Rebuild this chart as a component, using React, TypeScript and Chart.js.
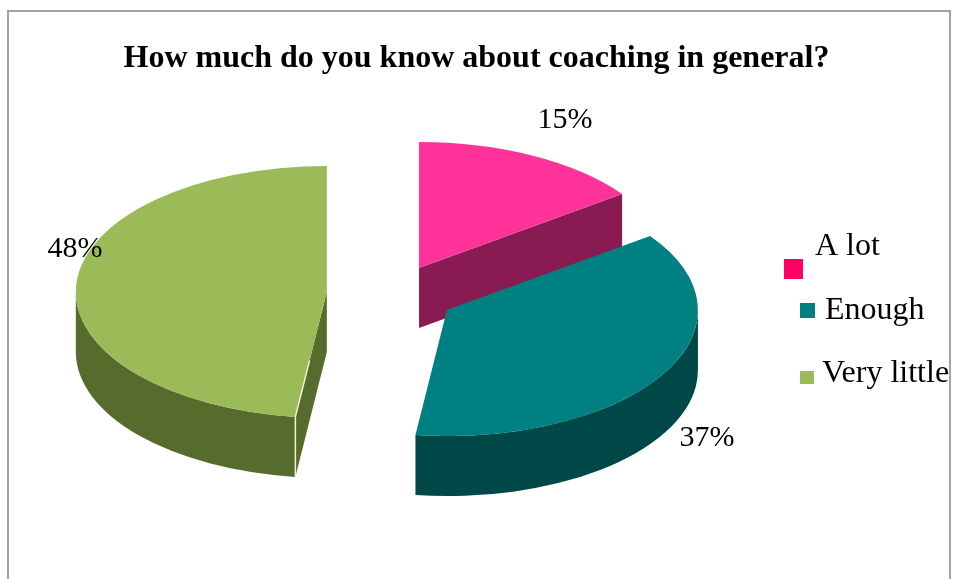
import React, { useEffect, useRef } from "react";
import { Chart, registerables } from "chart.js";

Chart.register(...registerables);

const categories = ["A lot", "Enough", "Very little"];
const shares = [15, 37, 48];
const topColors = ["#FF3399", "#008080", "#9BBB59"];
const wallColors = ["#8A1A52", "#004848", "#566B2C"];
const legendColors = ["#FF0066", "#008080", "#9BBB59"];
const chartTitle = "How much do you know about coaching in general?";

const SERIF = '"Liberation Serif", "Times New Roman", serif';
const CENTER_X = 392.7;
const CENTER_Y = 294;
const TILT = 0.502; // vertical squash of the pie plane
const DEPTH = 60; // wall height in screen pixels
const RADIUS = 251;
const EXPLODE = [58, 63, 66]; // how far each slice is pulled out, in plane units

const LABEL_SPOTS = [
  { x: 565, y: 120 },
  { x: 707, y: 438 },
  { x: 75, y: 249 },
];
const LEGEND_ROWS = [
  { x: 784, y: 259, w: 19, h: 20, tx: 815, ty: 247 },
  { x: 800, y: 303, w: 15, h: 15, tx: 825, ty: 311 },
  { x: 800, y: 371, w: 14, h: 13, tx: 822, ty: 374 },
];

// Side walls sit under the flat arcs, so they are painted first.
function drawWalls(chart: any) {
  const ctx: CanvasRenderingContext2D = chart.ctx;
  const arcs = chart.getDatasetMeta(0).data;
  const drop = DEPTH / TILT;
  ctx.save();
  ctx.scale(1, TILT);
  arcs.forEach((arc: any, i: number) => {
    const { startAngle, endAngle, x: cx, y: cy } = arc;
    ctx.fillStyle = wallColors[i];

    const cutFace = (a: number) => {
      ctx.beginPath();
      ctx.moveTo(cx, cy);
      ctx.lineTo(cx + Math.cos(a) * RADIUS, cy + Math.sin(a) * RADIUS);
      ctx.lineTo(cx + Math.cos(a) * RADIUS, cy + Math.sin(a) * RADIUS + drop);
      ctx.lineTo(cx, cy + drop);
      ctx.closePath();
      ctx.fill();
    };
    // A cut face shows only when it turns toward the viewer.
    if (Math.cos(startAngle) < -1e-6) cutFace(startAngle);
    if (Math.cos(endAngle) > 1e-6) cutFace(endAngle);

    // Outer rim: only the part of the arc on the near half of the ellipse.
    const from = Math.max(startAngle, 0);
    const to = Math.min(endAngle, Math.PI);
    if (to > from) {
      ctx.beginPath();
      ctx.arc(cx, cy, RADIUS, from, to);
      ctx.arc(cx, cy + drop, RADIUS, to, from, true);
      ctx.closePath();
      ctx.fill();
    }
  });
  ctx.restore();
}

// Pale highlight along the near cut edge of a slice.
function drawSeams(chart: any) {
  const ctx: CanvasRenderingContext2D = chart.ctx;
  chart.getDatasetMeta(0).data.forEach((arc: any) => {
    const a = arc.startAngle;
    if (Math.cos(a) >= -1e-6) return;
    const innerX = arc.x + Math.cos(a) * RADIUS * 0.55;
    const innerY = (arc.y + Math.sin(a) * RADIUS * 0.55) * TILT;
    const rimX = arc.x + Math.cos(a) * RADIUS;
    const rimY = (arc.y + Math.sin(a) * RADIUS) * TILT;
    ctx.save();
    ctx.lineWidth = 1.5;
    ctx.strokeStyle = "#EEF3D2";
    ctx.beginPath();
    ctx.moveTo(innerX, innerY);
    ctx.lineTo(rimX, rimY);
    ctx.lineTo(rimX, rimY + DEPTH);
    ctx.stroke();
    ctx.restore();
  });
}

const tiltedPie = {
  id: "tiltedPie",
  // Place every slice on the plane, pulled out along its own bisector.
  afterDatasetsUpdate(chart: any) {
    chart.getDatasetMeta(0).data.forEach((arc: any, i: number) => {
      const mid = (arc.startAngle + arc.endAngle) / 2;
      arc.x = CENTER_X + Math.cos(mid) * EXPLODE[i];
      arc.y = CENTER_Y / TILT + Math.sin(mid) * EXPLODE[i];
      arc.outerRadius = RADIUS;
    });
  },
  beforeDraw(chart: any) {
    const ctx: CanvasRenderingContext2D = chart.ctx;
    ctx.save();
    ctx.strokeStyle = "#A3A3A3";
    ctx.lineWidth = 2;
    ctx.beginPath();
    ctx.moveTo(8, 579);
    ctx.lineTo(8, 11);
    ctx.lineTo(950, 11);
    ctx.lineTo(950, 579);
    ctx.stroke();
    ctx.restore();
  },
  beforeDatasetsDraw(chart: any) {
    drawWalls(chart);
    chart.ctx.save();
    chart.ctx.scale(1, TILT);
  },
  afterDatasetsDraw(chart: any) {
    const ctx: CanvasRenderingContext2D = chart.ctx;
    ctx.restore();
    drawSeams(chart);

    ctx.save();
    ctx.fillStyle = "#000000";
    ctx.textBaseline = "middle";
    ctx.textAlign = "center";
    ctx.font = `30px ${SERIF}`;
    shares.forEach((v, i) => {
      ctx.fillText(`${v}%`, LABEL_SPOTS[i].x, LABEL_SPOTS[i].y);
    });
    ctx.textAlign = "left";
    ctx.font = `32px ${SERIF}`;
    categories.forEach((name, i) => {
      const row = LEGEND_ROWS[i];
      ctx.fillStyle = legendColors[i];
      ctx.fillRect(row.x, row.y, row.w, row.h);
      ctx.fillStyle = "#000000";
      ctx.fillText(name, row.tx, row.ty);
    });
    ctx.restore();
  },
};

export default function App() {
  const ref = useRef<HTMLCanvasElement | null>(null);

  useEffect(() => {
    if (!ref.current) return;
    const chart = new Chart(ref.current, {
      type: "pie",
      data: {
        labels: categories,
        datasets: [
          {
            data: shares,
            backgroundColor: topColors,
            borderWidth: 0,
            clip: false,
          } as any,
        ],
      },
      options: {
        animation: false,
        responsive: false,
        layout: { padding: 0 },
        plugins: {
          legend: { display: false },
          tooltip: { enabled: false },
          title: {
            display: true,
            text: chartTitle,
            color: "#000000",
            font: { family: SERIF, size: 32, weight: "bold" },
            padding: { top: 40, bottom: 10 },
          },
        },
      } as any,
      plugins: [tiltedPie],
    });
    return () => chart.destroy();
  }, []);

  return (
    <div style={{ position: "fixed", left: 0, top: 0, width: 953, height: 579, overflow: "hidden", background: "#ffffff" }}>
      <canvas ref={ref} width={953} height={579} style={{ display: "block" }} />
    </div>
  );
}
